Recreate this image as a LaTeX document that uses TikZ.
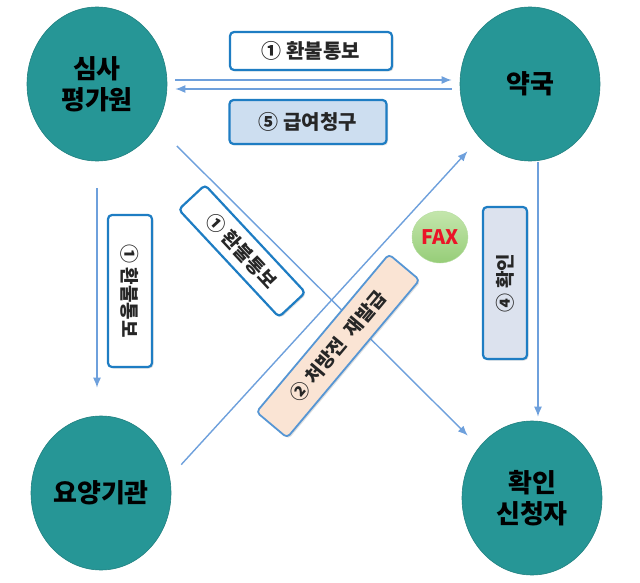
\documentclass[tikz,border=0pt]{standalone}
\usepackage{fontspec}
\setmainfont{Noto Sans CJK KR}
\definecolor{orgteal}{RGB}{38,150,150}
\definecolor{arrowblue}{RGB}{110,160,220}
\definecolor{boxblue}{RGB}{30,125,195}
\definecolor{paleblue}{RGB}{205,222,240}
\definecolor{peach}{RGB}{250,228,212}
\definecolor{grayblue}{RGB}{220,226,238}
\definecolor{faxgreen}{RGB}{150,205,120}
\definecolor{faxlight}{RGB}{196,230,172}
\definecolor{faxred}{RGB}{235,20,40}
\usetikzlibrary{shapes.geometric,arrows.meta,shadows}

\begin{document}
\begin{tikzpicture}[x=1pt,y=-1pt,
  org/.style={ellipse,fill=orgteal,draw=orgteal!85!black,line width=0.6pt,minimum width=140pt,minimum height=154pt,inner sep=0pt,align=center,font=\fontsize{26}{31}\selectfont\bfseries},
  tag/.style={rectangle,draw=boxblue,line width=2.2pt,rounded corners=4pt,fill=white,text=black!85,inner sep=0pt,font=\fontsize{19}{23}\selectfont\bfseries,drop shadow={shadow xshift=1.5pt,shadow yshift=-1.5pt,opacity=0.25}},
  flow/.style={draw=arrowblue,line width=1.4pt,-{Latex[length=10pt,width=8pt]}}]
  \useasboundingbox (0,0) rectangle (640,583);

  \node[org] (hira) at (97,84) {심사\\평가원};
  \node[org] (pharm) at (530,84) {약국};
  \node[org] (yoyang) at (101,493) {요양기관};
  \node[org] (appl) at (532,498) {확인\\신청자};

  \draw[flow,shorten <=8pt,shorten >=8pt] ([yshift=4pt]hira.east) -- ([yshift=4pt]pharm.west);
  \draw[flow,shorten <=8pt,shorten >=8pt] ([yshift=-5pt]pharm.west) -- ([yshift=-5pt]hira.east);
  \draw[flow,shorten <=27pt,shorten >=28pt] (hira.south) -- (hira.south |- yoyang.north);
  \draw[flow,shorten <=1pt,shorten >=4pt] ([xshift=8pt]pharm.south) -- ([xshift=6pt]appl.north);
  \draw[flow,shorten <=29pt,shorten >=16pt] (hira.-35) -- (appl.136);
  \draw[flow,shorten <=17pt,shorten >=18pt] (yoyang.13) -- (pharm.-133);

  \node[tag,minimum width=162pt,minimum height=38pt,font=\fontsize{20}{24}\selectfont\bfseries] (t1) at (311,51) {① 환불통보};
  \node[tag,fill=paleblue,minimum width=157pt,minimum height=44pt,font=\fontsize{20}{24}\selectfont\bfseries] (t5) at (308,122) {⑤ 급여청구};
  \node[tag,rotate=-90,minimum width=152pt,minimum height=44pt] (t1v) at (130,291) {① 환불통보};
  \node[tag,rotate=-47,minimum width=147pt,minimum height=36pt] (t1d) at (242,251) {① 환불통보};
  \node[tag,rotate=50,fill=peach,draw=arrowblue!70!boxblue,line width=1.8pt,minimum width=206pt,minimum height=40pt] (t2) at (338,346) {② 처방전\ \ 재발급};
  \node[tag,rotate=90,fill=grayblue,minimum width=152pt,minimum height=44pt] (t4) at (505,283) {④ 확인};

  \node[ellipse,top color=faxlight,bottom color=faxgreen,draw=faxgreen!70!white,minimum width=56pt,minimum height=52pt,inner sep=0pt,text=faxred,font=\fontsize{20}{24}\selectfont\bfseries] (fax) at (440,237) {FAX};
\end{tikzpicture}
\end{document}
